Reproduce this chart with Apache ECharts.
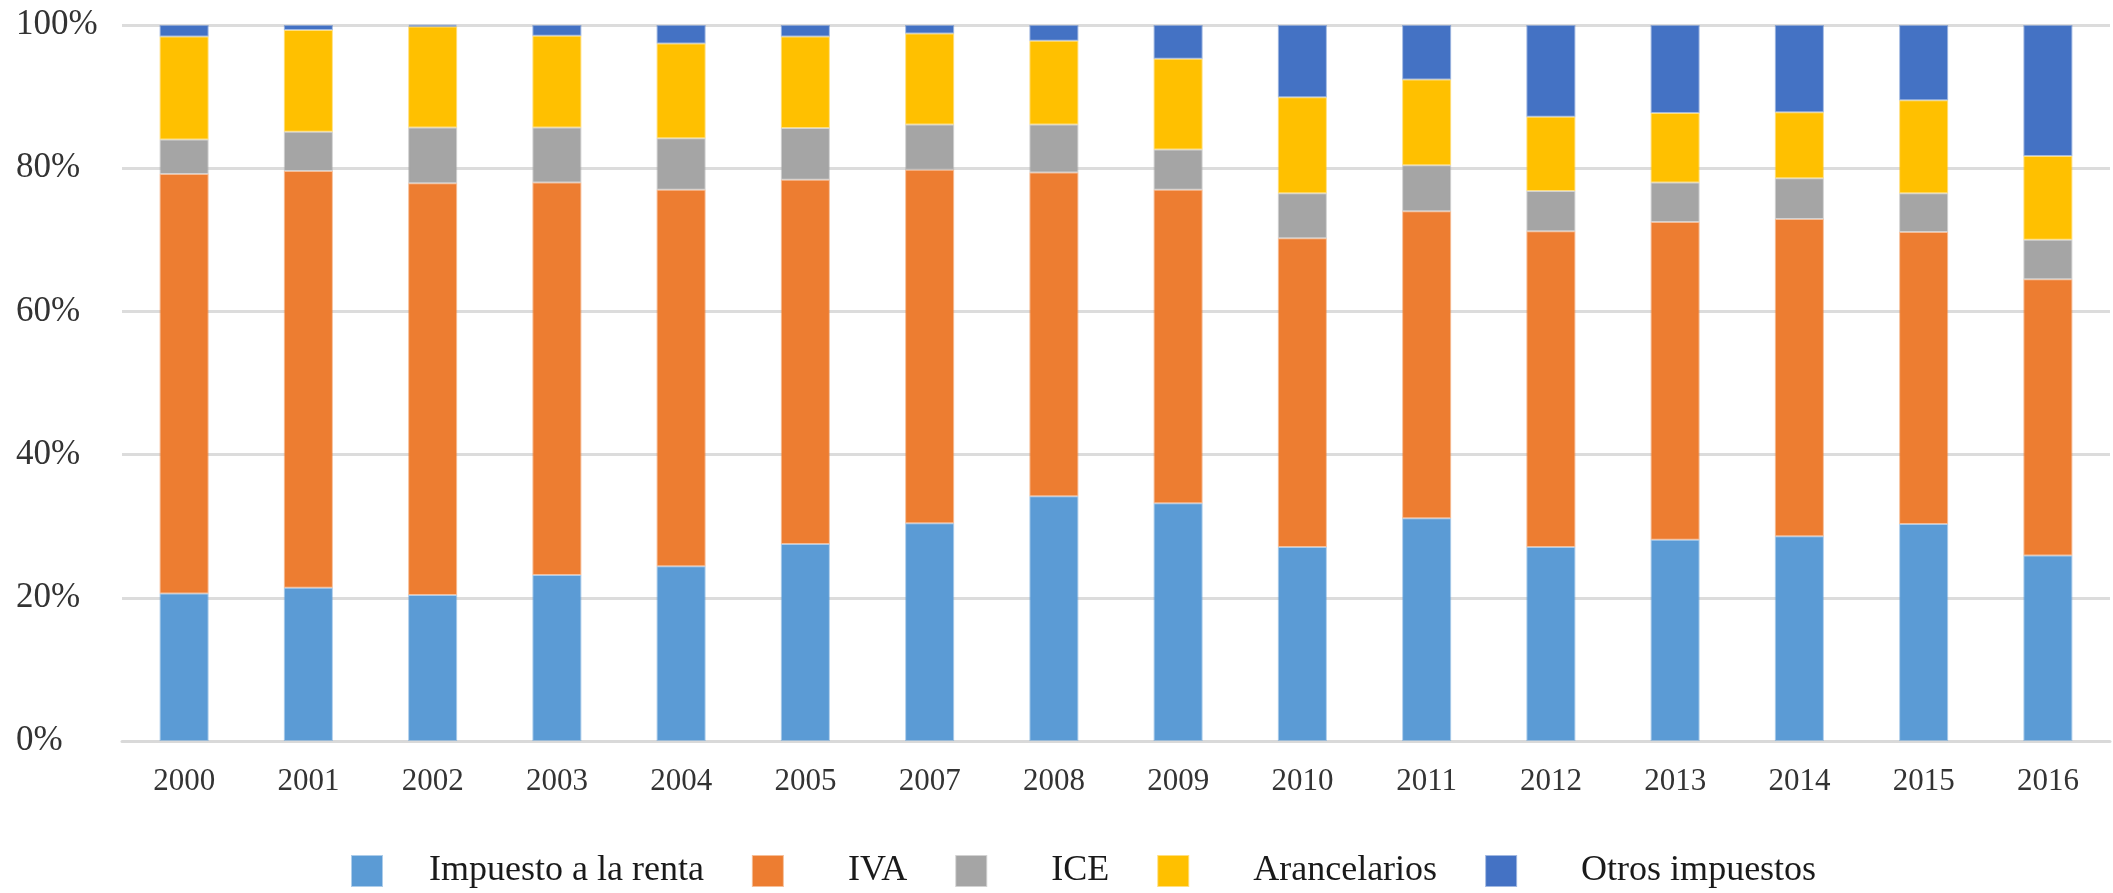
<!DOCTYPE html>
<html>
<head>
<meta charset="utf-8">
<script src="https://cdn.jsdelivr.net/npm/echarts@6/dist/echarts.min.js"></script>
<style>
html,body{margin:0;padding:0;background:#fff;}
#chart{width:2113px;height:893px;}
</style>
</head>
<body>
<div id="chart"></div>
<script>
const years = ['2000','2001','2002','2003','2004','2005','2007','2008','2009','2010','2011','2012','2013','2014','2015','2016'];
const yTicks = [0, 20, 40, 60, 80, 100];
const renta = [20.6, 21.4, 20.4, 23.2, 24.4, 27.5, 30.4, 34.2, 33.2, 27.1, 31.1, 27.1, 28.1, 28.6, 30.3, 25.9];
const iva = [58.6, 58.2, 57.5, 54.8, 52.6, 50.9, 49.4, 45.2, 43.8, 43.1, 42.9, 44.1, 44.4, 44.3, 40.8, 38.6];
const ice = [4.8, 5.5, 7.8, 7.7, 7.2, 7.2, 6.3, 6.7, 5.6, 6.3, 6.4, 5.6, 5.5, 5.7, 5.4, 5.5];
const aranc = [14.4, 14.2, 14.1, 12.8, 13.2, 12.8, 12.7, 11.7, 12.7, 13.4, 12.0, 10.4, 9.7, 9.2, 13.0, 11.7];
const otros = [1.6, 0.7, 0.2, 1.5, 2.6, 1.6, 1.2, 2.2, 4.7, 10.1, 7.6, 12.8, 12.3, 12.2, 10.5, 18.3];
const seriesNames = ['Impuesto a la renta', 'IVA', 'ICE', 'Arancelarios', 'Otros impuestos'];

const colors = ['#5B9BD5', '#ED7D31', '#A5A5A5', '#FFC000', '#4472C4'];
const edge = ['rgba(91,155,213,0.5)', 'rgba(237,125,49,0.5)', 'rgba(165,165,165,0.5)', 'rgba(255,192,0,0.5)', 'rgba(68,114,196,0.5)'];
const values = [renta, iva, ice, aranc, otros];

const chart = echarts.init(document.getElementById('chart'), null, {renderer: 'canvas'});
const serif = '"Liberation Serif", "DejaVu Serif", serif';

chart.setOption({
  animation: false,
  color: colors,
  grid: {left: 122, right: 3, top: 25, bottom: 152, containLabel: false},
  legend: {
    left: 351,
    top: 853,
    padding: 0,
    itemWidth: 30,
    itemHeight: 30,
    itemGap: 48,
    icon: 'rect',
    data: seriesNames.map((n, i) => ({
      name: n,
      textStyle: {padding: [0, 0, 0, i === 0 ? 42 : 60]}
    })),
    textStyle: {fontFamily: serif, fontSize: 36, color: '#1a1a1a', lineHeight: 30}
  },
  xAxis: {
    type: 'category',
    data: years,
    axisLine: {show: true, lineStyle: {color: '#D9D9D9', width: 3}},
    axisTick: {show: false},
    axisLabel: {fontFamily: serif, fontSize: 31, color: '#333', margin: 25, lineHeight: 31}
  },
  yAxis: {
    type: 'value',
    min: yTicks[0],
    max: yTicks[yTicks.length - 1],
    interval: yTicks[1] - yTicks[0],
    axisLine: {show: false},
    axisTick: {show: false},
    splitLine: {lineStyle: {color: '#DCDCDC', width: 3}},
    axisLabel: {
      fontFamily: serif, fontSize: 35, color: '#333',
      align: 'left', margin: 106,
      formatter: '{value}%'
    }
  },
  series: seriesNames.map((n, i) => ({
    name: n,
    type: 'bar',
    stack: 'total',
    barWidth: 49,
    data: values[i],
    itemStyle: {color: colors[i], borderColor: edge[i], borderWidth: 2}
  }))
});
</script>
</body>
</html>
